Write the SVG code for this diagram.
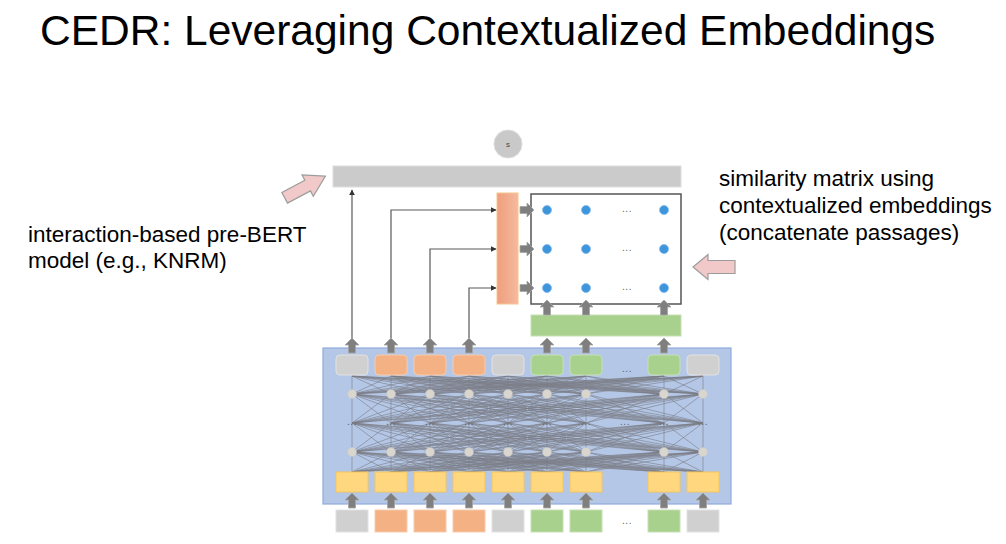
<svg xmlns="http://www.w3.org/2000/svg" xmlns:xlink="http://www.w3.org/1999/xlink" width="1006" height="544" viewBox="0 0 1006 544">
<style>
.lbl{font-family:"Liberation Sans",Arial,sans-serif;font-size:22.5px;fill:#000}
.ttl{font-family:"Liberation Sans",Arial,sans-serif;font-size:42.5px;fill:#000}
.tg{fill:#d0d0d0;stroke:#e2e2e2;stroke-width:1}
.to{fill:#f4b183;stroke:#f8cbad;stroke-width:1}
.tn{fill:#a9d18e;stroke:#c5e0b4;stroke-width:1}
.ty{fill:#ffd77f;stroke:#f5c65e;stroke-width:1}
.blk{fill:#7f7f7f;stroke:#a6a6a6;stroke-width:0.8}
.conn{fill:none;stroke:#595959;stroke-width:1.2}
.mesh path{fill:none;stroke:#7a7c84;stroke-width:0.8;stroke-opacity:0.75;vector-effect:non-scaling-stroke}
.nd{fill:#d9d6d0;stroke:#c8c5c0;stroke-width:0.5}
.dots{font-family:"Liberation Sans",Arial,sans-serif;font-size:10px;fill:#666;text-anchor:middle;letter-spacing:0.5px}
.dot{fill:#3d96dc;stroke:#7fb8e8;stroke-width:0.8}
.pink{fill:#f2c9c9;stroke:#9c9c9c;stroke-width:1.2}
</style>
<defs>
<marker id="ah" viewBox="0 0 10 10" refX="9" refY="5" markerWidth="6" markerHeight="6" markerUnits="userSpaceOnUse" orient="auto">
<path d="M0 0L10 5L0 10Z" fill="#333"/>
</marker>
<path id="up" d="M0 0L7 7H3.5V15H-3.5V7H-7Z"/>
<path id="rt" d="M0 0L-7 -7V-3.5H-14V3.5H-7V7Z"/>
<linearGradient id="og" x1="0" x2="1" y1="0" y2="0">
<stop offset="0" stop-color="#ef9f7d"/>
<stop offset="1" stop-color="#f5b99d"/>
</linearGradient>
<g id="mesh" class="mesh">
<path d="M352 0L352 10M352 0L391 10M352 0L430 10M352 0L469 10M352 0L508 10M352 0L547 10M352 0L586 10M352 0L664 10M352 0L703 10"/>
<path d="M391 0L352 10M391 0L391 10M391 0L430 10M391 0L469 10M391 0L508 10M391 0L547 10M391 0L586 10M391 0L664 10M391 0L703 10"/>
<path d="M430 0L352 10M430 0L391 10M430 0L430 10M430 0L469 10M430 0L508 10M430 0L547 10M430 0L586 10M430 0L664 10M430 0L703 10"/>
<path d="M469 0L352 10M469 0L391 10M469 0L430 10M469 0L469 10M469 0L508 10M469 0L547 10M469 0L586 10M469 0L664 10M469 0L703 10"/>
<path d="M508 0L352 10M508 0L391 10M508 0L430 10M508 0L469 10M508 0L508 10M508 0L547 10M508 0L586 10M508 0L664 10M508 0L703 10"/>
<path d="M547 0L352 10M547 0L391 10M547 0L430 10M547 0L469 10M547 0L508 10M547 0L547 10M547 0L586 10M547 0L664 10M547 0L703 10"/>
<path d="M586 0L352 10M586 0L391 10M586 0L430 10M586 0L469 10M586 0L508 10M586 0L547 10M586 0L586 10M586 0L664 10M586 0L703 10"/>
<path d="M664 0L352 10M664 0L391 10M664 0L430 10M664 0L469 10M664 0L508 10M664 0L547 10M664 0L586 10M664 0L664 10M664 0L703 10"/>
<path d="M703 0L352 10M703 0L391 10M703 0L430 10M703 0L469 10M703 0L508 10M703 0L547 10M703 0L586 10M703 0L664 10M703 0L703 10"/>
</g>
</defs>
<rect width="1006" height="544" fill="#fff"/>

<text class="ttl" x="40" y="45">CEDR: Leveraging Contextualized Embeddings</text>

<g id="label-left">
<text class="lbl" x="28" y="242">interaction-based pre-BERT</text>
<text class="lbl" x="28" y="268">model (e.g., KNRM)</text>
</g>
<g id="label-right">
<text class="lbl" x="719" y="186">similarity matrix using</text>
<text class="lbl" x="719" y="213">contextualized embeddings</text>
<text class="lbl" x="719" y="240">(concatenate passages)</text>
</g>
<g id="pointer-left">
<polygon class="pink" points="23,0 3,-12 3,-6 -23,-6 -23,6 3,6 3,12" transform="translate(305,187) rotate(-28)"/>
</g>
<g id="pointer-right">
<polygon class="pink" points="693,267 708,254.5 708,260.5 735,260.5 735,273.5 708,273.5 708,279.5"/>
</g>

<g id="score">
<circle cx="508" cy="144" r="14" fill="#c9c9c9" stroke="#dcdcdc"/>
<text x="508" y="147" font-family="Liberation Sans,Arial,sans-serif" font-size="8" text-anchor="middle" fill="#444">s</text>
</g>
<g id="ranker-bar">
<rect x="333" y="166" width="348" height="21" fill="#cbcbcb" stroke="#dedede"/>
</g>
<g id="query-bar">
<rect x="497" y="193" width="21" height="111" fill="url(#og)" stroke="#f7c48e"/>
</g>
<g id="sim-matrix">
<rect x="531" y="194" width="150" height="110" fill="#fff" stroke="#555" stroke-width="1.5"/>
<circle class="dot" cx="547" cy="210" r="4.5"/><circle class="dot" cx="586" cy="210" r="4.5"/><circle class="dot" cx="664" cy="210" r="4.5"/>
<circle class="dot" cx="547" cy="249" r="4.5"/><circle class="dot" cx="586" cy="249" r="4.5"/><circle class="dot" cx="664" cy="249" r="4.5"/>
<circle class="dot" cx="547" cy="288" r="4.5"/><circle class="dot" cx="586" cy="288" r="4.5"/><circle class="dot" cx="664" cy="288" r="4.5"/>
<text class="dots" x="627" y="212">...</text>
<text class="dots" x="627" y="251">...</text>
<text class="dots" x="627" y="290">...</text>
</g>
<g id="doc-bar">
<rect x="531" y="315" width="150" height="21" fill="#a9d18e" stroke="#c5e0b4"/>
</g>

<g id="bert">
<rect x="323" y="348" width="408" height="156" fill="#b4c7e7" stroke="#8faadc" stroke-width="1.2"/>
<use xlink:href="#mesh" transform="translate(0,376) scale(1,1.8)"/>
<use xlink:href="#mesh" transform="translate(0,394) scale(1,2.9)"/>
<use xlink:href="#mesh" transform="translate(0,423) scale(1,2.9)"/>
<use xlink:href="#mesh" transform="translate(0,452) scale(1,2.0)"/>
<g id="bert-nodes">
<circle class="nd" cx="352" cy="394" r="4.5"/><circle class="nd" cx="391" cy="394" r="4.5"/><circle class="nd" cx="430" cy="394" r="4.5"/><circle class="nd" cx="469" cy="394" r="4.5"/><circle class="nd" cx="508" cy="394" r="4.5"/><circle class="nd" cx="547" cy="394" r="4.5"/><circle class="nd" cx="586" cy="394" r="4.5"/><circle class="nd" cx="664" cy="394" r="4.5"/><circle class="nd" cx="703" cy="394" r="4.5"/>
<circle class="nd" cx="352" cy="452" r="4.5"/><circle class="nd" cx="391" cy="452" r="4.5"/><circle class="nd" cx="430" cy="452" r="4.5"/><circle class="nd" cx="469" cy="452" r="4.5"/><circle class="nd" cx="508" cy="452" r="4.5"/><circle class="nd" cx="547" cy="452" r="4.5"/><circle class="nd" cx="586" cy="452" r="4.5"/><circle class="nd" cx="664" cy="452" r="4.5"/><circle class="nd" cx="703" cy="452" r="4.5"/>
<text class="dots" x="352" y="425">...</text><text class="dots" x="391" y="425">...</text><text class="dots" x="430" y="425">...</text><text class="dots" x="469" y="425">...</text><text class="dots" x="508" y="425">...</text><text class="dots" x="547" y="425">...</text><text class="dots" x="586" y="425">...</text><text class="dots" x="625" y="425">...</text><text class="dots" x="664" y="425">...</text><text class="dots" x="703" y="425">...</text>
</g>
<g id="out-tokens">
<rect class="tg" x="336" y="355" width="32" height="20" rx="4"/>
<rect class="to" x="375" y="355" width="32" height="20" rx="4"/>
<rect class="to" x="414" y="355" width="32" height="20" rx="4"/>
<rect class="to" x="453" y="355" width="32" height="20" rx="4"/>
<rect class="tg" x="492" y="355" width="32" height="20" rx="4"/>
<rect class="tn" x="531" y="355" width="32" height="20" rx="4"/>
<rect class="tn" x="570" y="355" width="32" height="20" rx="4"/>
<text class="dots" x="627" y="372">...</text>
<rect class="tn" x="648" y="355" width="32" height="20" rx="4"/>
<rect class="tg" x="687" y="355" width="32" height="20" rx="4"/>
</g>
<g id="emb-tokens">
<rect class="ty" x="336" y="472" width="32" height="20"/>
<rect class="ty" x="375" y="472" width="32" height="20"/>
<rect class="ty" x="414" y="472" width="32" height="20"/>
<rect class="ty" x="453" y="472" width="32" height="20"/>
<rect class="ty" x="492" y="472" width="32" height="20"/>
<rect class="ty" x="531" y="472" width="32" height="20"/>
<rect class="ty" x="570" y="472" width="32" height="20"/>
<rect class="ty" x="648" y="472" width="32" height="20"/>
<rect class="ty" x="687" y="472" width="32" height="20"/>
</g>
</g>

<g id="in-tokens">
<rect class="tg" x="336" y="510" width="32" height="22"/>
<rect class="to" x="375" y="510" width="32" height="22"/>
<rect class="to" x="414" y="510" width="32" height="22"/>
<rect class="to" x="453" y="510" width="32" height="22"/>
<rect class="tg" x="492" y="510" width="32" height="22"/>
<rect class="tn" x="531" y="510" width="32" height="22"/>
<rect class="tn" x="570" y="510" width="32" height="22"/>
<text class="dots" x="627" y="524">...</text>
<rect class="tn" x="648" y="510" width="32" height="22"/>
<rect class="tg" x="687" y="510" width="32" height="22"/>
</g>

<g id="connectors">
<g id="block-arrows" class="blk">
<use xlink:href="#up" x="352" y="493"/><use xlink:href="#up" x="391" y="493"/><use xlink:href="#up" x="430" y="493"/><use xlink:href="#up" x="469" y="493"/><use xlink:href="#up" x="508" y="493"/><use xlink:href="#up" x="547" y="493"/><use xlink:href="#up" x="586" y="493"/><use xlink:href="#up" x="664" y="493"/><use xlink:href="#up" x="703" y="493"/>
<use xlink:href="#up" x="352" y="338"/><use xlink:href="#up" x="391" y="338"/><use xlink:href="#up" x="430" y="338"/><use xlink:href="#up" x="469" y="338"/><use xlink:href="#up" x="547" y="338"/><use xlink:href="#up" x="586" y="338"/><use xlink:href="#up" x="664" y="338"/>
<use xlink:href="#up" x="547" y="300"/><use xlink:href="#up" x="586" y="300"/><use xlink:href="#up" x="664" y="300"/>
<use xlink:href="#rt" x="534" y="210"/><use xlink:href="#rt" x="534" y="249"/><use xlink:href="#rt" x="534" y="288"/>
</g>
<path class="conn" d="M352 338V190" marker-end="url(#ah)"/>
<path class="conn" d="M391 338V210H496" marker-end="url(#ah)"/>
<path class="conn" d="M430 338V249H496" marker-end="url(#ah)"/>
<path class="conn" d="M469 338V288H496" marker-end="url(#ah)"/>
</g>
</svg>
